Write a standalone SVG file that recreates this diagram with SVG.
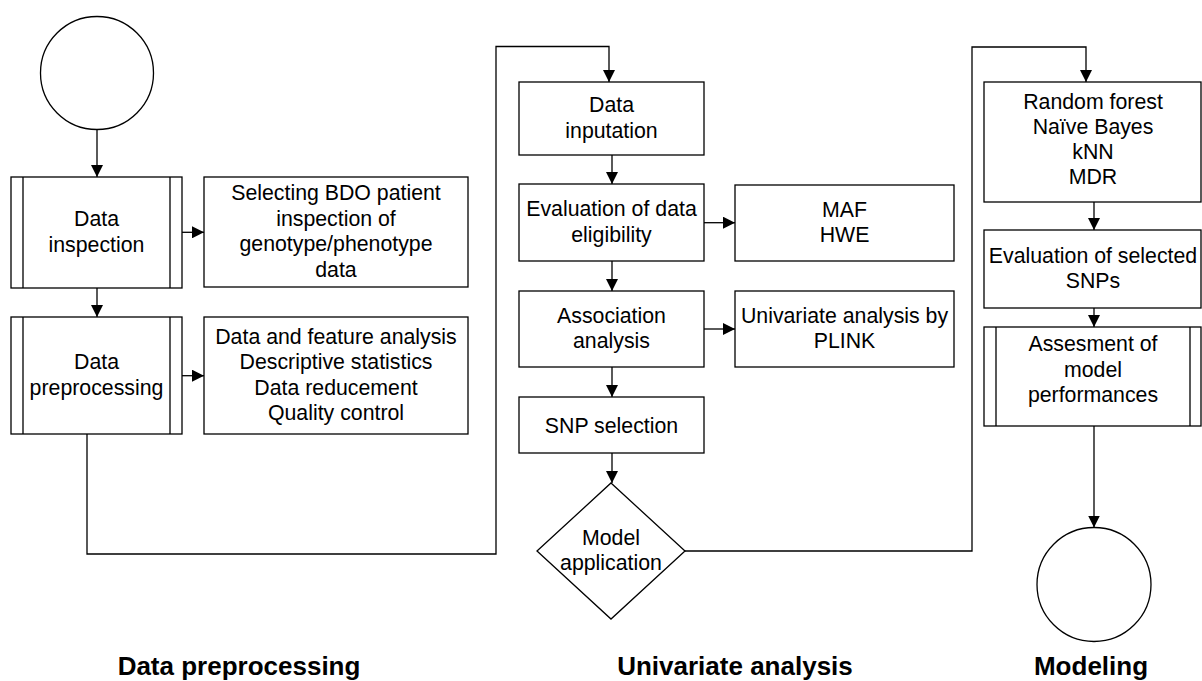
<svg xmlns="http://www.w3.org/2000/svg" width="1202" height="681" viewBox="0 0 1202 681">
  <defs>
    <marker id="arrow" viewBox="0 0 12 12" refX="12" refY="6" markerWidth="12" markerHeight="12" markerUnits="userSpaceOnUse" orient="auto">
      <path d="M0,0 L12,6 L0,12 Z" fill="#000"/>
    </marker>
    <style>
      .shape { fill: #fff; stroke: #000; stroke-width: 1.3; }
      .inner { fill: none; stroke: #000; stroke-width: 1.3; }
      .edge { fill: none; stroke: #000; stroke-width: 1.3; }
      .arrowed { marker-end: url(#arrow); }
      .label { font-family: "Liberation Sans", Arial, sans-serif; font-size: 21.3px; fill: #000; text-anchor: middle; }
      .title { font-family: "Liberation Sans", Arial, sans-serif; font-size: 26px; font-weight: bold; fill: #000; text-anchor: middle; }
    </style>
  </defs>
  <rect width="1202" height="681" fill="#fff"/>

  <!-- connectors -->
  <g id="connectors">
    <path class="edge arrowed" d="M97,129.5 V177"/>
    <path class="edge arrowed" d="M97,288 V317"/>
    <path class="edge arrowed" d="M182,232.3 H204"/>
    <path class="edge arrowed" d="M182,375.7 H204"/>
    <path class="edge arrowed" d="M87,434 V554 H496 V46.5 H609 V82"/>
    <path class="edge arrowed" d="M612,155 V184"/>
    <path class="edge arrowed" d="M612,261 V291"/>
    <path class="edge arrowed" d="M612,367 V397"/>
    <path class="edge arrowed" d="M612,453 V483"/>
    <path class="edge arrowed" d="M704,222.7 H735"/>
    <path class="edge arrowed" d="M704,329 H735"/>
    <path class="edge arrowed" d="M685,551 H972 V47 H1086 V82"/>
    <path class="edge arrowed" d="M1094,202 V230"/>
    <path class="edge arrowed" d="M1094,308 V327"/>
    <path class="edge arrowed" d="M1094,426 V527.5"/>
  </g>

  <!-- data preprocessing column -->
  <g id="start">
    <circle class="shape" cx="97" cy="73" r="56.5"/>
  </g>
  <g id="data-inspection">
    <rect class="shape" x="11" y="177" width="171" height="111"/>
    <path class="inner" d="M23,177 V288 M170,177 V288"/>
    <text class="label" x="96.5" y="226.2">Data</text>
    <text class="label" x="96.5" y="251.8">inspection</text>
  </g>
  <g id="selecting-bdo">
    <rect class="shape" x="204" y="177" width="264" height="110"/>
    <text class="label" x="336" y="200.1">Selecting BDO patient</text>
    <text class="label" x="336" y="225.7">inspection of</text>
    <text class="label" x="336" y="251.3">genotype/phenotype</text>
    <text class="label" x="336" y="276.9">data</text>
  </g>
  <g id="data-preprocessing">
    <rect class="shape" x="11" y="317" width="171" height="117"/>
    <path class="inner" d="M23,317 V434 M170,317 V434"/>
    <text class="label" x="96.5" y="369.2">Data</text>
    <text class="label" x="96.5" y="394.8">preprocessing</text>
  </g>
  <g id="feature-analysis">
    <rect class="shape" x="204" y="317" width="264" height="117"/>
    <text class="label" x="336" y="343.6">Data and feature analysis</text>
    <text class="label" x="336" y="369.2">Descriptive statistics</text>
    <text class="label" x="336" y="394.8">Data reducement</text>
    <text class="label" x="336" y="420.4">Quality control</text>
  </g>

  <!-- univariate analysis column -->
  <g id="data-inputation">
    <rect class="shape" x="519" y="82" width="185" height="73"/>
    <text class="label" x="611.5" y="112.2">Data</text>
    <text class="label" x="611.5" y="137.8">inputation</text>
  </g>
  <g id="data-eligibility">
    <rect class="shape" x="519" y="184" width="185" height="77"/>
    <text class="label" x="611.5" y="216.2">Evaluation of data</text>
    <text class="label" x="611.5" y="241.8">eligibility</text>
  </g>
  <g id="maf-hwe">
    <rect class="shape" x="735" y="185" width="219" height="76"/>
    <text class="label" x="844.5" y="216.7">MAF</text>
    <text class="label" x="844.5" y="242.3">HWE</text>
  </g>
  <g id="association-analysis">
    <rect class="shape" x="519" y="291" width="185" height="76"/>
    <text class="label" x="611.5" y="322.7">Association</text>
    <text class="label" x="611.5" y="348.3">analysis</text>
  </g>
  <g id="plink">
    <rect class="shape" x="735" y="291" width="219" height="76"/>
    <text class="label" x="844.5" y="322.7">Univariate analysis by</text>
    <text class="label" x="844.5" y="348.3">PLINK</text>
  </g>
  <g id="snp-selection">
    <rect class="shape" x="519" y="397" width="185" height="56"/>
    <text class="label" x="611.5" y="432.5">SNP selection</text>
  </g>
  <g id="model-application">
    <path class="shape" d="M611,483 L685,551 L611,619 L537,551 Z"/>
    <text class="label" x="611" y="544.7">Model</text>
    <text class="label" x="611" y="570.3">application</text>
  </g>

  <!-- modeling column -->
  <g id="classifiers">
    <rect class="shape" x="984" y="82" width="217" height="120"/>
    <text class="label" x="1093" y="109">Random forest</text>
    <text class="label" x="1093" y="134">Naïve Bayes</text>
    <text class="label" x="1093" y="159">kNN</text>
    <text class="label" x="1093" y="184">MDR</text>
  </g>
  <g id="selected-snps">
    <rect class="shape" x="984" y="230" width="217" height="78"/>
    <text class="label" x="1093" y="262.7">Evaluation of selected</text>
    <text class="label" x="1093" y="288.3">SNPs</text>
  </g>
  <g id="model-performance">
    <rect class="shape" x="984" y="327" width="217" height="99"/>
    <path class="inner" d="M996,327 V426 M1190,327 V426"/>
    <text class="label" x="1093" y="351">Assesment of</text>
    <text class="label" x="1093" y="376.5">model</text>
    <text class="label" x="1093" y="402">performances</text>
  </g>
  <g id="end">
    <circle class="shape" cx="1094" cy="584.5" r="57"/>
  </g>

  <!-- phase titles -->
  <g id="phase-titles">
    <text class="title" x="239" y="675">Data preprocessing</text>
    <text class="title" x="735" y="675">Univariate analysis</text>
    <text class="title" x="1091" y="675">Modeling</text>
  </g>
</svg>
